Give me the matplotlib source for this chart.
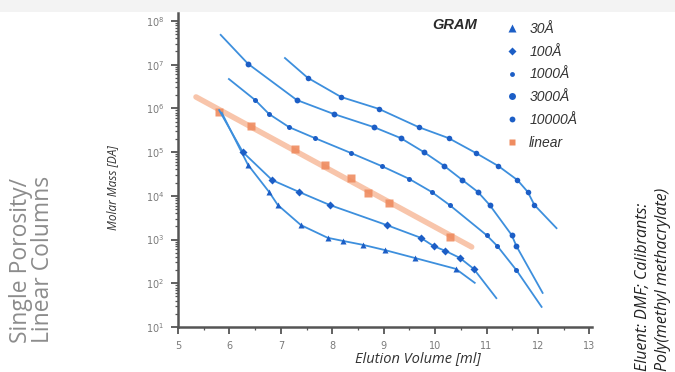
import numpy as np
import matplotlib
matplotlib.use("Agg")
import matplotlib.pyplot as plt
from matplotlib.lines import Line2D
from matplotlib.patches import Rectangle
from matplotlib.ticker import FixedLocator, LogLocator, NullFormatter

# Calibration data: elution volume [ml] and log10 molar mass [Da]
# *_ends hold the two ends of each drawn calibration line
v30 = [6.36, 6.77, 6.94, 7.39, 7.91, 8.20, 8.59, 9.02, 9.60, 10.40]
m30 = [4.71, 4.09, 3.79, 3.33, 3.04, 2.97, 2.88, 2.76, 2.58, 2.33]
v30_ends, m30_ends = [5.85, 10.77], [5.90, 2.01]

v100 = [6.26, 6.83, 7.35, 7.95, 9.06, 9.72, 9.97, 10.20, 10.48, 10.75]
m100 = [5.00, 4.36, 4.09, 3.79, 3.33, 3.04, 2.85, 2.74, 2.58, 2.33]
v100_ends, m100_ends = [5.80, 11.19], [5.96, 1.66]

v1000 = [6.50, 6.77, 7.16, 7.66, 8.36, 8.96, 9.49, 9.93, 10.28, 11.00, 11.21, 11.58]
m1000 = [6.19, 5.87, 5.57, 5.32, 4.98, 4.68, 4.39, 4.09, 3.79, 3.10, 2.85, 2.30]
v1000_ends, m1000_ends = [5.99, 12.07], [6.67, 1.46]

v3000 = [6.36, 7.31, 8.03, 8.81, 9.33, 9.78, 10.18, 10.53, 10.83, 11.06, 11.49, 11.58]
m3000 = [7.02, 6.19, 5.87, 5.57, 5.32, 5.00, 4.68, 4.36, 4.09, 3.79, 3.10, 2.85]
v3000_ends, m3000_ends = [5.83, 12.09], [7.68, 1.78]

v10000 = [7.52, 8.17, 8.90, 9.68, 10.26, 10.79, 11.23, 11.60, 11.80, 11.93]
m10000 = [6.70, 6.26, 5.99, 5.57, 5.32, 4.98, 4.68, 4.36, 4.09, 3.79]
v10000_ends, m10000_ends = [7.08, 12.36], [7.15, 3.26]

v_lin = [5.80, 6.42, 7.27, 7.85, 8.36, 8.69, 9.10, 10.28]
m_lin = [5.92, 5.60, 5.07, 4.71, 4.41, 4.07, 3.84, 3.06]
v_lin_ends, m_lin_ends = [5.35, 10.71], [6.26, 2.83]

labels = ["30Å", "100Å", "1000Å", "3000Å", "10000Å", "linear"]
x_ticks = [5, 6, 7, 8, 9, 10, 11, 12, 13]
y_decades = [1, 2, 3, 4, 5, 6, 7, 8]

BLUE_LINE = "#3d8fdd"
BLUE_MARK = "#1c5ec6"
ORANGE_LINE = "#f7bb9c"
ORANGE_MARK = "#ef8c60"
AXIS = "#555555"

fig = plt.figure(figsize=(6.75, 3.72), dpi=100)
fig.patches.append(Rectangle((0, 1 - 12 / 372), 1, 12 / 372, transform=fig.transFigure,
                             facecolor="#f3f3f3", edgecolor="none", zorder=0))

ax = fig.add_axes([178 / 675, 1 - 327 / 372, (592 - 178) / 675, (327 - 13) / 372])
ax.set_yscale("log")

blue_series = [
    (v30, m30, v30_ends, m30_ends, "^", 4.5),
    (v100, m100, v100_ends, m100_ends, "D", 3.6),
    (v1000, m1000, v1000_ends, m1000_ends, "o", 3.6),
    (v3000, m3000, v3000_ends, m3000_ends, "o", 4.2),
    (v10000, m10000, v10000_ends, m10000_ends, "o", 4.0),
]

# linear column: thick straight band with square markers
ax.plot(v_lin_ends, 10 ** np.array(m_lin_ends), color=ORANGE_LINE, lw=4.0,
        alpha=0.85, solid_capstyle="round", zorder=2)
ax.plot(v_lin, 10 ** np.array(m_lin), "s", color=ORANGE_MARK, ms=5.5,
        mec="none", alpha=0.9, zorder=3)

for v, m, ve, me, mk, ms in blue_series:
    lx = [ve[0]] + list(v) + [ve[1]]
    ly = [me[0]] + list(m) + [me[1]]
    ax.plot(lx, 10 ** np.array(ly), color=BLUE_LINE, lw=1.3, zorder=4)
    ax.plot(v, 10 ** np.array(m), mk, color=BLUE_MARK, ms=ms, mec="none", zorder=5)

ax.set_xlim(5, 13.05)
ax.set_ylim(10, 10 ** 8.18)

ax.xaxis.set_major_locator(FixedLocator(x_ticks))
ax.xaxis.set_minor_locator(FixedLocator([t + 0.5 for t in x_ticks[:-1]]))
ax.set_xticklabels([str(t) for t in x_ticks])
ax.yaxis.set_major_locator(FixedLocator([10 ** d for d in y_decades]))
ax.yaxis.set_minor_locator(LogLocator(base=10, subs=np.arange(2, 10)))
ax.yaxis.set_minor_formatter(NullFormatter())
ax.set_yticklabels([f"$10^{{{d}}}$" for d in y_decades])

for s in ["top", "right"]:
    ax.spines[s].set_visible(False)
for s in ["left", "bottom"]:
    ax.spines[s].set_color(AXIS)
    ax.spines[s].set_linewidth(1.8)
ax.tick_params(which="major", length=5, width=1.3, color=AXIS, labelsize=7,
               labelcolor="#7a7a7a", pad=5)
ax.tick_params(which="minor", length=2.5, width=0.9, color=AXIS)

ax.set_xlabel("Elution Volume [ml]", fontsize=10.5, style="italic", color="#333333",
              family="Open Sans")
ax.xaxis.set_label_coords((418 - 178) / (592 - 178), -0.075)
ax.set_ylabel("Molar Mass [DA]", fontsize=8.5, style="italic", color="#333333",
              family="Open Sans")
ax.yaxis.set_label_coords(-(178 - 119) / (592 - 178), (327 - 188) / (327 - 13))

# legend
handles = [
    Line2D([], [], ls="none", marker="^", color=BLUE_MARK, ms=5.5, mec="none"),
    Line2D([], [], ls="none", marker="D", color=BLUE_MARK, ms=4.5, mec="none"),
    Line2D([], [], ls="none", marker="o", color=BLUE_MARK, ms=3.5, mec="none"),
    Line2D([], [], ls="none", marker="o", color=BLUE_MARK, ms=5, mec="none"),
    Line2D([], [], ls="none", marker="o", color=BLUE_MARK, ms=4.2, mec="none"),
    Line2D([], [], ls="none", marker="s", color=ORANGE_MARK, ms=5, mec="none"),
]
leg = ax.legend(handles, labels, loc="upper left",
                bbox_to_anchor=((498 - 178) / (592 - 178), 1 - (15 - 13) / (327 - 13)),
                frameon=False, handlelength=1.0, handletextpad=0.75, labelspacing=0.63,
                borderpad=0, prop={"family": "Liberation Sans", "style": "italic", "size": 10})
for t in leg.get_texts():
    t.set_color("#333333")
ax.text((455 - 178) / (592 - 178), 1 - (25 - 13) / (327 - 13), "GRAM", transform=ax.transAxes,
        ha="center", va="center", fontsize=10.5, style="italic", weight="bold",
        family="Liberation Sans", color="#2a2a2a")

# side texts
fig.text(32 / 675, 1 - 343 / 372, "Single Porosity/\nLinear Columns", rotation=90,
         ha="center", va="bottom", fontsize=16.5, color="#8c8c8c", family="Open Sans",
         linespacing=0.85, multialignment="left")
fig.text(653 / 675, 1 - 371 / 372, "Eluent: DMF; Calibrants:\nPoly(methyl methacrylate)",
         rotation=90, ha="center", va="bottom", fontsize=11.5, style="italic",
         color="#222222", family="Open Sans", linespacing=1.3, multialignment="left")

fig.savefig("out.png", dpi=100, facecolor="white")
